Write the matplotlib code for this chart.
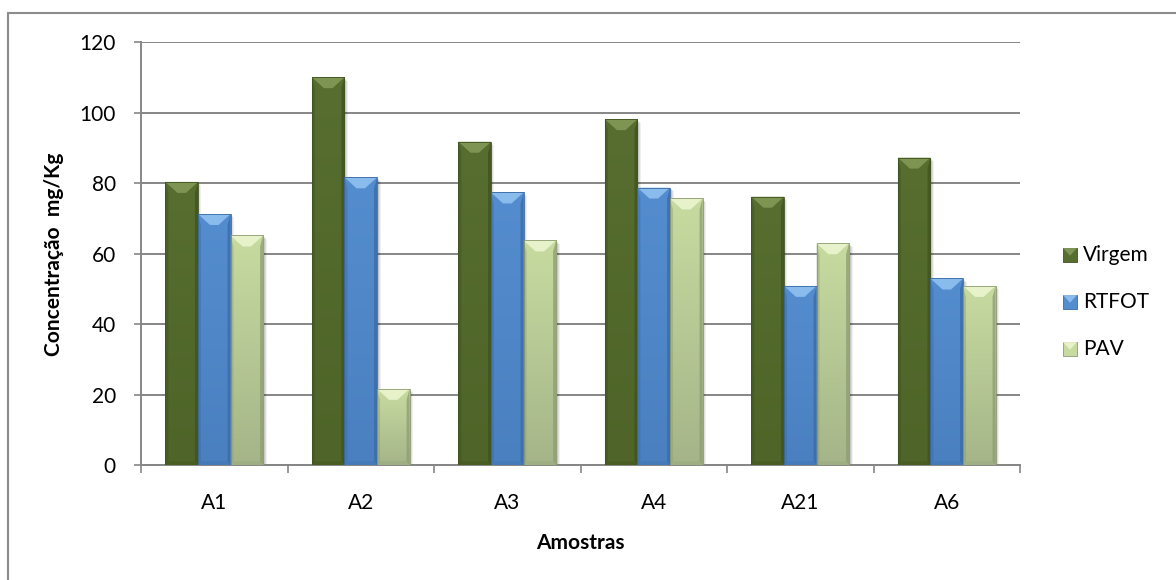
import numpy as np
import matplotlib
matplotlib.use("Agg")
import matplotlib.pyplot as plt
from matplotlib.patches import Polygon, Rectangle
from matplotlib.colors import to_rgb

# Sample data: concentration (mg/Kg) per sample and ageing condition
categories = ["A1", "A2", "A3", "A4", "A21", "A6"]
virgem = [80.4, 110.1, 91.8, 98.2, 76.2, 87.3]
rtfot = [71.3, 81.7, 77.4, 78.8, 50.9, 53.0]
pav = [65.2, 21.7, 63.8, 75.7, 63.0, 50.9]
series_names = ["Virgem", "RTFOT", "PAV"]
y_ticks = [0, 20, 40, 60, 80, 100, 120]

plt.rcParams['font.family'] = ['Lato', 'DejaVu Sans']
FS = 15

W, H = 1176, 580
fig = plt.figure(figsize=(W / 100, H / 100), dpi=100)
ax = fig.add_axes([141 / W, 1 - 465.3 / H, (1020 - 141) / W, (465.3 - 42.3) / H])

n = len(categories)
ax.set_xlim(-0.5, n - 0.5)
ax.set_ylim(0, 120)

grey = "#868686"
ax.set_axisbelow(True)
ax.yaxis.grid(True, color=grey, lw=1.4)
for s in ("top", "right"):
    ax.spines[s].set_visible(False)
for s in ("left", "bottom"):
    ax.spines[s].set_color(grey)
    ax.spines[s].set_linewidth(1.4)

ax.set_yticks(y_ticks)
ax.set_yticklabels([str(v) for v in y_ticks])
ax.tick_params(axis="y", direction="out", length=5, width=1.2, color=grey,
               pad=13, labelsize=FS)
x = np.arange(n)
ax.set_xticks(x)
ax.set_xticklabels(categories)
ax.tick_params(axis="x", which="major", length=0, pad=20, labelsize=FS)
ax.set_xticks(np.arange(n + 1) - 0.5, minor=True)
ax.tick_params(axis="x", which="minor", direction="out", length=6, width=1.2, color=grey)

styles = {
    "Virgem": dict(top_c="#576e30", bot_c="#4e6428", bevel="#869c5a", side="#3f5220", base="#47591f"),
    "RTFOT": dict(top_c="#548dcf", bot_c="#4a80c0", bevel="#93c4f2", side="#3b6aa6", base="#4276b3"),
    "PAV": dict(top_c="#c7dba0", bot_c="#a5b589", bevel="#eef7d2", side="#8d9c72", base="#9aaa80"),
}

bw = 1 / 4.5
values = [virgem, rtfot, pav]

fig.canvas.draw()
bbox = ax.get_window_extent()
px_x = bbox.width / (n)          # pixels per x data unit
px_y = bbox.height / 120.0       # pixels per y data unit


def grad_img(c_top, c_bot):
    t = np.linspace(0, 1, 64)[:, None]
    a = np.array(to_rgb(c_top))
    b = np.array(to_rgb(c_bot))
    return (a * (1 - t) + b * t)[:, None, :].repeat(2, axis=1)


for i, (name, vals) in enumerate(zip(series_names, values)):
    st = styles[name]
    offs = (i - 1) * bw
    bars = ax.bar(x + offs, vals, width=bw, color=st["top_c"], edgecolor="none", zorder=3)
    for rect in bars:
        x0 = rect.get_x()
        w = rect.get_width()
        h = rect.get_height()
        x1 = x0 + w
        # soft drop shadow
        for k, al in ((3.5, 0.06), (2.5, 0.08), (1.5, 0.10)):
            ax.add_patch(Rectangle((x0 + k / px_x, -k / px_y), w, h, facecolor="black",
                                   alpha=al, edgecolor="none", zorder=2.5))
        # vertical body gradient
        im = ax.imshow(grad_img(st["top_c"], st["bot_c"]), extent=(x0, x1, 0, h),
                       aspect="auto", zorder=3.1, interpolation="bilinear")
        im.set_clip_path(rect)
        rect.set_facecolor("none")
        bx = 12 / px_x
        by = 11 / px_y
        sx = 3 / px_x
        sy = 4 / px_y
        # side bevels
        ax.add_patch(Polygon([(x0, h), (x0 + sx, h - by), (x0 + sx, sy), (x0, 0)],
                             closed=True, facecolor=st["side"], alpha=0.45,
                             edgecolor="none", zorder=3.2))
        ax.add_patch(Polygon([(x1, h), (x1 - sx, h - by), (x1 - sx, sy), (x1, 0)],
                             closed=True, facecolor=st["side"], alpha=0.75,
                             edgecolor="none", zorder=3.2))
        # bottom bevel
        ax.add_patch(Polygon([(x0, 0), (x1, 0), (x1 - sx, sy), (x0 + sx, sy)],
                             closed=True, facecolor=st["base"], alpha=0.6,
                             edgecolor="none", zorder=3.2))
        # top bevel
        ax.add_patch(Polygon([(x0, h), (x1, h), (x1 - bx, h - by), (x0 + bx, h - by)],
                             closed=True, facecolor=st["bevel"], alpha=0.85,
                             edgecolor="none", zorder=3.3))
        # outline
        ax.add_patch(Rectangle((x0, 0), w, h, facecolor="none", edgecolor=st["side"],
                               lw=0.6, zorder=3.4))

ax.set_ylabel("")
ax.set_xlabel("")
fig.text(54 / W, 1 - 254 / H, "Concentração  mg/Kg", rotation=90, ha="center", va="center",
         fontsize=FS, fontweight="bold")
fig.text(580.5 / W, 1 - 543 / H, "Amostras", ha="center", va="center",
         fontsize=FS, fontweight="bold")

# legend
for i, name in enumerate(series_names):
    st = styles[name]
    yc = 255 + 47 * i
    sq = 14
    x0p, y0p = 1063, yc - sq / 2
    fig.add_artist(Rectangle((x0p / W, 1 - (y0p + sq) / H), sq / W, sq / H,
                             transform=fig.transFigure, facecolor=st["top_c"],
                             edgecolor=st["side"], lw=0.6))
    fig.add_artist(Polygon([(x0p / W, 1 - y0p / H), ((x0p + sq) / W, 1 - y0p / H),
                            ((x0p + sq / 2) / W, 1 - (y0p + sq * 0.55) / H)],
                           closed=True, transform=fig.transFigure,
                           facecolor=st["bevel"], edgecolor="none", alpha=0.85))
    fig.text(1083 / W, 1 - yc / H, name, ha="left", va="center", fontsize=FS)

# outer chart frame
fig.add_artist(Rectangle((7.5 / W, -0.05), 1.2, 1 - 12.5 / H + 0.05,
                         transform=fig.transFigure, facecolor="none",
                         edgecolor="#8c8c8c", lw=1.5))

fig.savefig("out.png", dpi=100)
